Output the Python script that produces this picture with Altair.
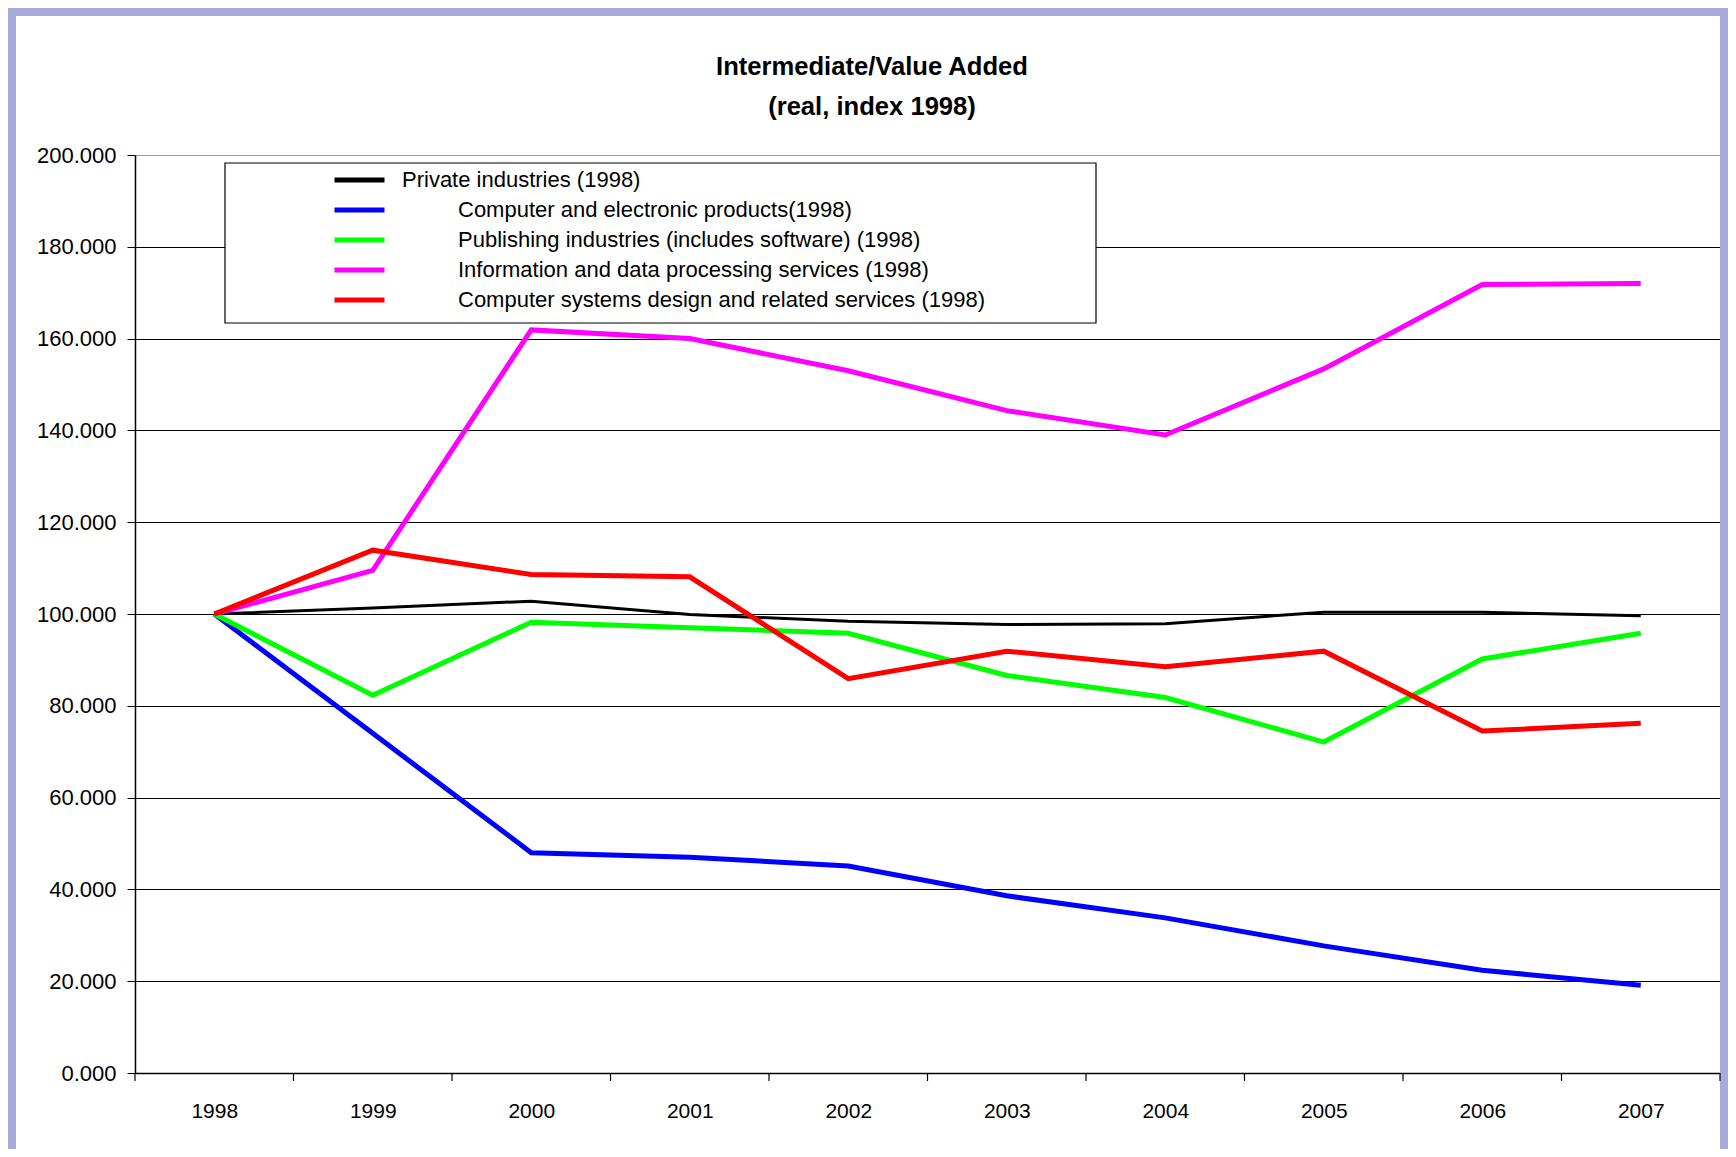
import altair as alt
import pandas as pd

years = [1998, 1999, 2000, 2001, 2002, 2003, 2004, 2005, 2006, 2007]
series_names = [
    "Private industries (1998)",
    "Computer and electronic products(1998)",
    "Publishing industries (includes software) (1998)",
    "Information and data processing services (1998)",
    "Computer systems design and related services (1998)",
]
series_colors = ["#000000", "#0000FF", "#00FF00", "#FF00FF", "#FF0000"]

private_ind = [100.0, 101.3, 102.8, 99.9, 98.4, 97.7, 97.9, 100.4, 100.4, 99.6]
computer_elec = [100.0, 74.0, 48.0, 47.0, 45.1, 38.6, 33.8, 27.7, 22.4, 19.1]
publishing = [100.0, 82.3, 98.2, 97.0, 95.8, 86.6, 81.8, 72.1, 90.2, 95.8]
info_data = [100.0, 109.5, 161.9, 160.0, 153.0, 144.3, 139.0, 153.4, 171.8, 172.0]
comp_sys = [100.0, 113.9, 108.6, 108.1, 85.9, 91.9, 88.5, 91.9, 74.5, 76.2]

y_ticks = [0, 20, 40, 60, 80, 100, 120, 140, 160, 180, 200]
x_tick_marks = [1997.5, 1998.5, 1999.5, 2000.5, 2001.5, 2002.5, 2003.5, 2004.5, 2005.5, 2006.5, 2007.5]

all_values = [private_ind, computer_elec, publishing, info_data, comp_sys]
rows = []
for name, vals in zip(series_names, all_values):
    for yr, v in zip(years, vals):
        rows.append({"year": yr, "value": v, "series": name})
df = pd.DataFrame(rows)
df_first = df[df["series"] == series_names[0]]
df_rest = df[df["series"] != series_names[0]]

FONT = "Liberation Sans"
W, H = 1585, 918

x_scale = alt.Scale(domain=[1997.5, 2007.5], nice=False, zero=False)
y_scale = alt.Scale(domain=[0, 200], nice=False)

x_enc = alt.X("year:Q", scale=x_scale,
              axis=alt.Axis(values=years, format="d", title=None, ticks=False, grid=False,
                            labelFontSize=21, labelFont=FONT, labelColor="#000",
                            labelPadding=27, domainColor="#000", domainWidth=1.5,
                            labelFlush=False))
y_enc = alt.Y("value:Q", scale=y_scale,
              axis=alt.Axis(values=y_ticks, format=".3f", title=None, tickSize=8,
                            tickColor="#000", labelFontSize=22, labelFont=FONT,
                            labelColor="#000", labelPadding=11, domainColor="#000",
                            domainWidth=1.5, grid=True,
                            gridColor=alt.condition("datum.value == 200", alt.value("#999999"), alt.value("#000000")),
                            gridWidth=1.2))


def legend(y, offset):
    return alt.Legend(orient="none", legendX=197, legendY=y, title=None,
                      symbolType="stroke", symbolSize=2500,
                      symbolStrokeWidth=5, clipHeight=26, rowPadding=4,
                      labelFontSize=22, labelFont=FONT, labelColor="#000",
                      labelOffset=offset, labelLimit=0, padding=0)


lines_first = alt.Chart(df_first).mark_line(strokeJoin="miter", strokeWidth=3).encode(
    x=x_enc, y=y_enc,
    color=alt.Color("series:N",
                    scale=alt.Scale(domain=series_names[:1], range=series_colors[:1]),
                    legend=legend(12, 15)),
    order=alt.Order("year:Q"),
)

lines_rest = alt.Chart(df_rest).mark_line(strokeJoin="miter", strokeWidth=5).encode(
    x=x_enc, y=y_enc,
    color=alt.Color("series:N", sort=series_names[1:],
                    scale=alt.Scale(domain=series_names[1:], range=series_colors[1:]),
                    legend=legend(42, 71)),
    order=alt.Order("year:Q"),
)

ticks_df = pd.DataFrame({"year": x_tick_marks})
tick_rules = alt.Chart(ticks_df).mark_rule(color="#000", strokeWidth=1.2).encode(
    x=alt.X("year:Q", scale=x_scale),
    y=alt.value(H),
    y2=alt.value(H + 8),
)

one = pd.DataFrame({"a": [0]})
legend_box = alt.Chart(one).mark_rect(fill="#ffffff", stroke="#000000", strokeWidth=1.2).encode(
    x=alt.value(90), x2=alt.value(961), y=alt.value(8), y2=alt.value(168)
)

frame = alt.Chart(one).mark_rect(fillOpacity=0, stroke="#A9ABDA", strokeWidth=8, clip=False).encode(
    x=alt.value(-123), x2=alt.value(1589), y=alt.value(-143), y2=alt.value(1020)
)

chart = alt.layer(frame, legend_box, lines_first, lines_rest, tick_rules).resolve_scale(
    color="independent"
).resolve_legend(color="independent").properties(
    width=W, height=H,
    title=alt.TitleParams(["Intermediate/Value Added", "(real, index 1998)"],
                          font=FONT, fontSize=25.6, fontWeight="bold", color="#000",
                          anchor="middle", frame="bounds", lineHeight=40, offset=0,
                          dy=113, dx=4),
    autosize=alt.AutoSizeParams(type="none"),
    padding={"left": 127, "top": 147, "right": 8, "bottom": 76},
).configure_view(stroke=None).configure(background="#ffffff")

chart.save("out.html", embed_options={"renderer": "svg", "actions": False})
